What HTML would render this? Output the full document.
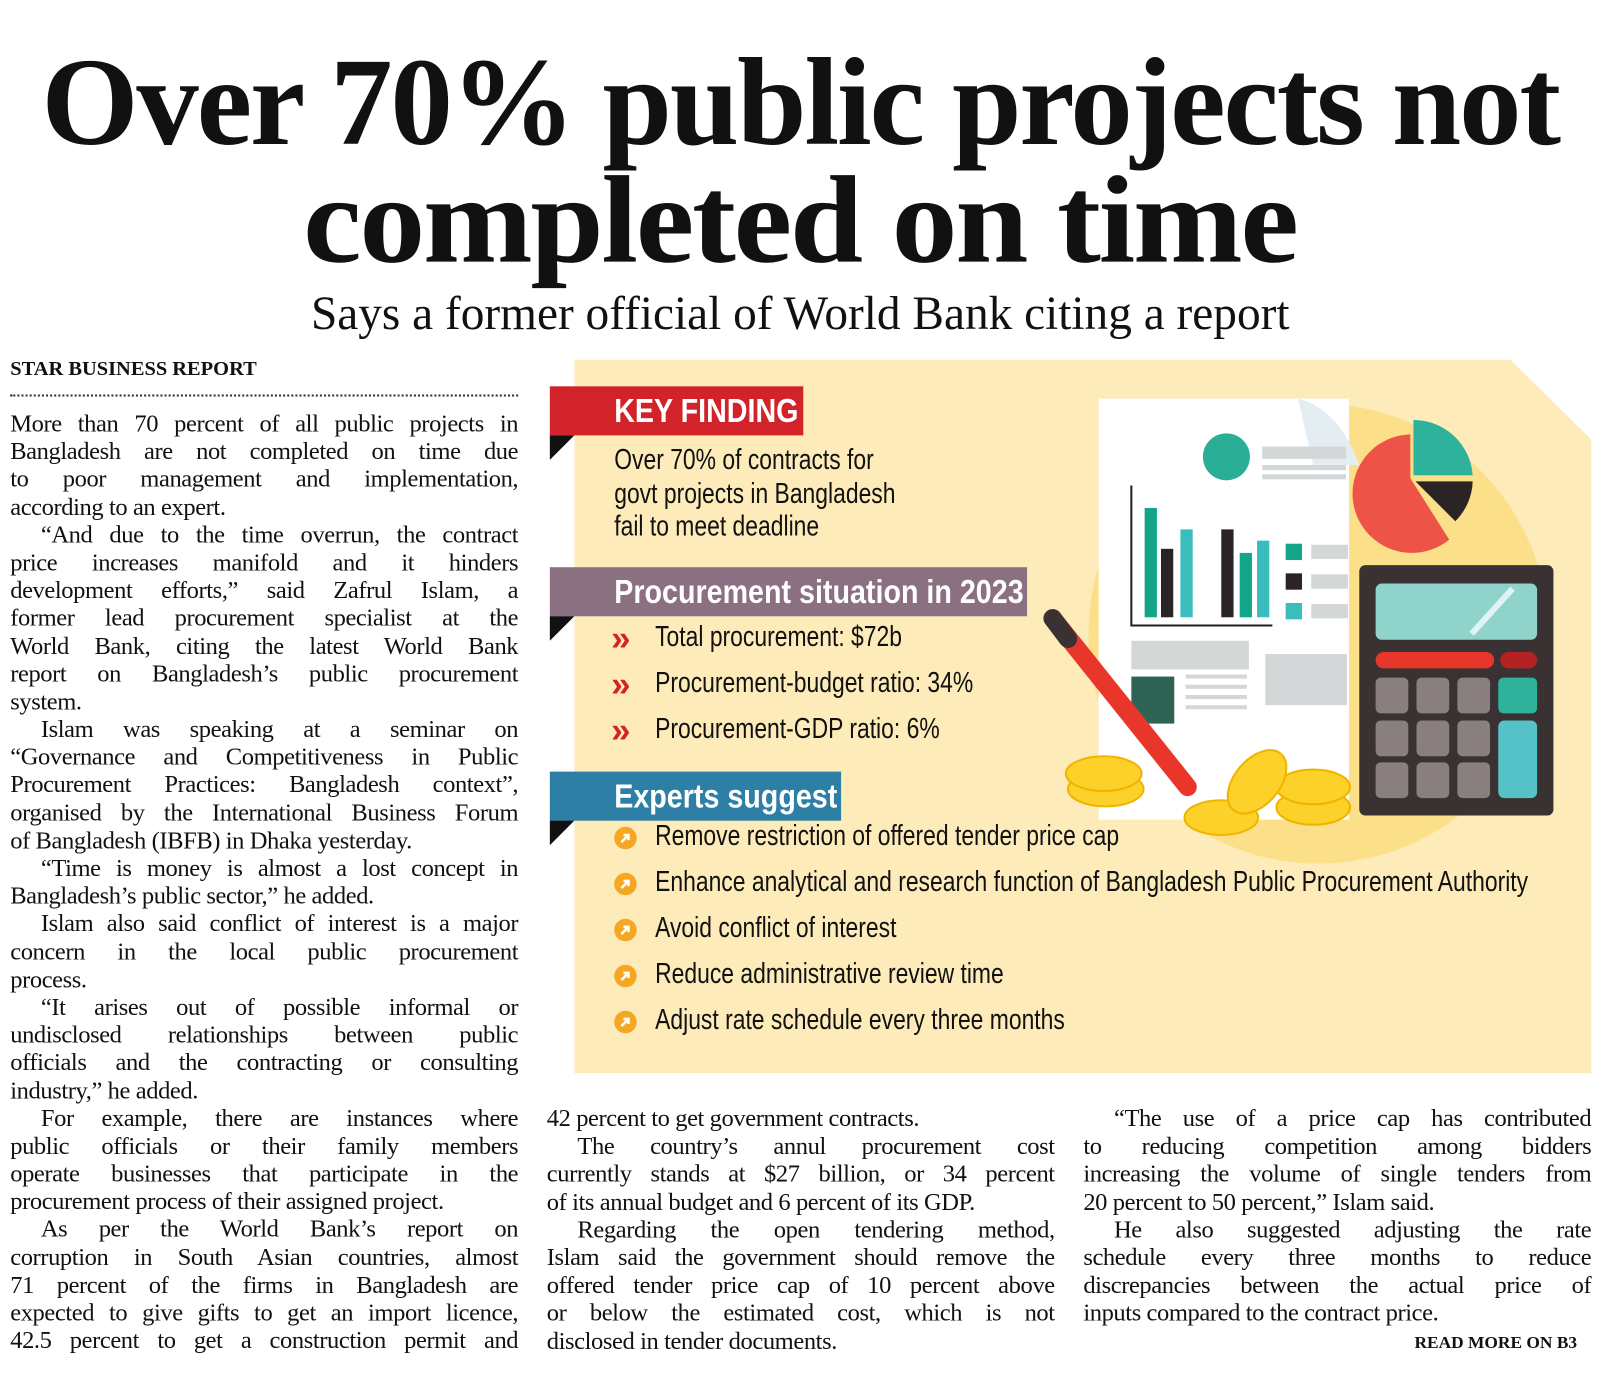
<!DOCTYPE html>
<html><head><meta charset="utf-8"><style>
body{margin:0;width:1603px;height:1370px;background:#fff;position:relative;overflow:hidden;font-family:"Liberation Serif",serif;color:#111}
#w{position:absolute;left:0;top:0;width:1560px;height:1334px;transform:scale(1.022);transform-origin:0 0}
.a{position:absolute;white-space:nowrap}
.h{font-weight:bold;font-size:122px;letter-spacing:-2px;line-height:1;transform-origin:center}
.col{position:absolute;width:497px;font-size:24px;letter-spacing:-0.4px}
.col div{height:27.2px;line-height:27.2px;white-space:nowrap;text-align:justify;text-align-last:justify}
.col div.l{text-align-last:left}
.col div.i{text-indent:30px}
.nar{font-family:"Liberation Sans",sans-serif;display:inline-block;transform-origin:0 50%;white-space:nowrap}
.lab{position:absolute;color:#fff;font-weight:bold;font-size:33px;line-height:48px;padding-left:63px;box-sizing:border-box;height:48px;white-space:nowrap;overflow:hidden}
.lab span{transform:scaleX(.85)}
.tri{position:absolute;width:0;height:0;border-top:24px solid #111;border-left:24px solid transparent;transform:scaleX(-1)}
.it{position:absolute;font-size:28px;left:641px;transform:scaleX(.8)}
.bq{position:absolute;left:598px;font-size:34px;color:#d2232a;font-weight:bold;font-family:"Liberation Sans",sans-serif;line-height:1}
</style></head><body><div id="w">
<div class="a" style="top:40px;left:0;width:1566px;text-align:center"><span class="h" style="display:inline-block;transform:scaleX(1.0)">Over 70% public projects not</span></div>
<div class="a" style="top:155px;left:0;width:1566px;text-align:center"><span class="h" style="display:inline-block;transform:scaleX(1.055)">completed on time</span></div>
<div class="a" style="top:280px;left:0;width:1566px;text-align:center;font-size:47px;transform:scaleX(.985)">Says a former official of World Bank citing a report</div>
<div class="a" style="top:350px;left:10px;font-weight:bold;font-size:20px">STAR BUSINESS REPORT</div>
<div class="a" style="top:386px;left:10px;width:497px;border-top:2px dotted #333"></div>

<div class="col" style="left:10px;top:402px">
<div>More than 70 percent of all public projects in</div>
<div>Bangladesh are not completed on time due</div>
<div>to poor management and implementation,</div>
<div class="l">according to an expert.</div>
<div class="i">“And due to the time overrun, the contract</div>
<div>price increases manifold and it hinders</div>
<div>development efforts,” said Zafrul Islam, a</div>
<div>former lead procurement specialist at the</div>
<div>World Bank, citing the latest World Bank</div>
<div>report on Bangladesh’s public procurement</div>
<div class="l">system.</div>
<div class="i">Islam was speaking at a seminar on</div>
<div>“Governance and Competitiveness in Public</div>
<div>Procurement Practices: Bangladesh context”,</div>
<div>organised by the International Business Forum</div>
<div class="l">of Bangladesh (IBFB) in Dhaka yesterday.</div>
<div class="i">“Time is money is almost a lost concept in</div>
<div class="l">Bangladesh’s public sector,” he added.</div>
<div class="i">Islam also said conflict of interest is a major</div>
<div>concern in the local public procurement</div>
<div class="l">process.</div>
<div class="i">“It arises out of possible informal or</div>
<div>undisclosed relationships between public</div>
<div>officials and the contracting or consulting</div>
<div class="l">industry,” he added.</div>
<div class="i">For example, there are instances where</div>
<div>public officials or their family members</div>
<div>operate businesses that participate in the</div>
<div class="l">procurement process of their assigned project.</div>
<div class="i">As per the World Bank’s report on</div>
<div>corruption in South Asian countries, almost</div>
<div>71 percent of the firms in Bangladesh are</div>
<div>expected to give gifts to get an import licence,</div>
<div>42.5 percent to get a construction permit and</div>
</div>

<div class="col" style="left:535px;top:1082px">
<div class="l">42 percent to get government contracts.</div>
<div class="i">The country’s annul procurement cost</div>
<div>currently stands at $27 billion, or 34 percent</div>
<div class="l">of its annual budget and 6 percent of its GDP.</div>
<div class="i">Regarding the open tendering method,</div>
<div>Islam said the government should remove the</div>
<div>offered tender price cap of 10 percent above</div>
<div>or below the estimated cost, which is not</div>
<div class="l">disclosed in tender documents.</div>
</div>
<div class="col" style="left:1060px;top:1082px">
<div class="i">“The use of a price cap has contributed</div>
<div>to reducing competition among bidders</div>
<div>increasing the volume of single tenders from</div>
<div class="l">20 percent to 50 percent,” Islam said.</div>
<div class="i">He also suggested adjusting the rate</div>
<div>schedule every three months to reduce</div>
<div>discrepancies between the actual price of</div>
<div class="l">inputs compared to the contract price.</div>
</div>
<div class="a" style="left:1384px;top:1304px;font-size:17px;font-weight:bold">READ MORE ON B3</div>

<svg class="a" style="left:0;top:0" width="1603" height="1370">
<polygon points="562,352 1478,352 1557,430 1557,1050 562,1050" fill="#fdebb9"/>
<circle cx="1290" cy="620" r="225" fill="#fbe089"/>
<rect x="1075" y="390" width="245" height="412" fill="#fff"/>
<path d="M1270,390 Q1310,400 1330,455 L1285,455 Z" fill="#e4eef2"/>
<ellipse cx="1200" cy="447" rx="23" ry="23" fill="#2aae96"/>
<rect x="1235" y="437" width="82" height="12" fill="#d4d7d8"/><rect x="1235" y="455" width="82" height="5" fill="#d4d7d8"/><rect x="1235" y="464" width="82" height="5" fill="#d4d7d8"/>
<polyline points="1107,475 1107,612 1245,612" fill="none" stroke="#222" stroke-width="2"/>
<rect x="1120" y="497" width="12" height="107" fill="#12a58a"/><rect x="1136" y="537" width="12" height="67" fill="#2a2424"/><rect x="1155" y="518" width="12" height="86" fill="#3abdbd"/>
<rect x="1195" y="518" width="12" height="86" fill="#2a2424"/><rect x="1213" y="541" width="12" height="63" fill="#12a58a"/><rect x="1230" y="529" width="12" height="75" fill="#3abdbd"/>
<rect x="1258" y="532" width="16" height="16" fill="#12a58a"/><rect x="1258" y="561" width="16" height="16" fill="#2a2424"/><rect x="1258" y="590" width="16" height="16" fill="#3abdbd"/>
<rect x="1283" y="533" width="36" height="14" fill="#d4d7d8"/><rect x="1283" y="562" width="36" height="14" fill="#d4d7d8"/><rect x="1283" y="591" width="36" height="14" fill="#d4d7d8"/>
<rect x="1107" y="627" width="115" height="28" fill="#d4d7d8"/><rect x="1107" y="662" width="42" height="46" fill="#2f6356"/>
<rect x="1160" y="660" width="60" height="4" fill="#d4d7d8"/><rect x="1160" y="670" width="60" height="4" fill="#d4d7d8"/><rect x="1160" y="680" width="60" height="4" fill="#d4d7d8"/><rect x="1160" y="690" width="60" height="4" fill="#d4d7d8"/>
<rect x="1238" y="640" width="80" height="50" fill="#d4d7d8"/>
<path d="M1380,468 L1380,425 A58,58 0 1,0 1418,528 Z" fill="#ee5347"/>
<path d="M1383,465 L1383,411 A58,58 0 0,1 1441,465 Z" fill="#2fb29c"/>
<path d="M1385,471 L1441,471 A58,58 0 0,1 1424,510 Z" fill="#2a2424"/>
<rect x="1330" y="553" width="190" height="245" rx="6" fill="#3a3232"/>
<rect x="1346" y="571" width="158" height="55" rx="6" fill="#8fd3cb"/>
<line x1="1440" y1="620" x2="1480" y2="576" stroke="#e0f2f3" stroke-width="6"/>
<rect x="1346" y="638" width="116" height="16" rx="8" fill="#e8362a"/><rect x="1468" y="638" width="36" height="16" rx="8" fill="#b52224"/>
<g fill="#8a7f7f">
<rect x="1346" y="663" width="32" height="35" rx="5"/><rect x="1386" y="663" width="32" height="35" rx="5"/><rect x="1426" y="663" width="32" height="35" rx="5"/>
<rect x="1346" y="705" width="32" height="35" rx="5"/><rect x="1386" y="705" width="32" height="35" rx="5"/><rect x="1426" y="705" width="32" height="35" rx="5"/>
<rect x="1346" y="746" width="32" height="35" rx="5"/><rect x="1386" y="746" width="32" height="35" rx="5"/><rect x="1426" y="746" width="32" height="35" rx="5"/></g>
<rect x="1466" y="663" width="38" height="35" rx="5" fill="#2fb29c"/><rect x="1466" y="705" width="38" height="76" rx="6" fill="#55c2c8"/>
<line x1="1030" y1="605" x2="1162" y2="770" stroke="#e8362a" stroke-width="18" stroke-linecap="round"/>
<line x1="1030" y1="605" x2="1045" y2="625" stroke="#3a3232" stroke-width="18" stroke-linecap="round"/>
<g fill="#fcd22a" stroke="#f0b400" stroke-width="2">
<ellipse cx="1082" cy="772" rx="37" ry="17"/><ellipse cx="1080" cy="757" rx="37" ry="17"/>
<ellipse cx="1195" cy="800" rx="36" ry="17"/><ellipse cx="1285" cy="790" rx="36" ry="17"/><ellipse cx="1285" cy="770" rx="36" ry="17"/><ellipse cx="1230" cy="765" rx="22" ry="36" transform="rotate(40 1230 765)"/></g>
</svg>

<div class="lab" style="left:538px;top:378px;width:248px;background:#d2232a"><span class="nar">KEY FINDING</span></div>
<div class="tri" style="left:538px;top:426px"></div>
<div class="a" style="left:601px;top:434px;font-size:28px;line-height:32.5px"><span class="nar" style="transform:scaleX(.8)">Over 70% of contracts for<br>govt projects in Bangladesh<br>fail to meet deadline</span></div>

<div class="lab" style="left:538px;top:555px;width:467px;background:#8a7080"><span class="nar">Procurement situation in 2023</span></div>
<div class="tri" style="left:538px;top:603px"></div>
<div class="bq" style="top:608px">»</div>
<div class="bq" style="top:653px">»</div>
<div class="bq" style="top:698px">»</div>
<div class="it nar" style="top:607px">Total procurement: $72b</div>
<div class="it nar" style="top:652px">Procurement-budget ratio: 34%</div>
<div class="it nar" style="top:697px">Procurement-GDP ratio: 6%</div>

<div class="lab" style="left:538px;top:755px;width:285px;background:#2e7fa6"><span class="nar">Experts suggest</span></div>
<div class="tri" style="left:538px;top:803px"></div>
<svg class="a" style="left:600px;top:808px" width="26" height="210">
<g fill="#f5a623"><circle cx="12" cy="12" r="11"/><circle cx="12" cy="57" r="11"/><circle cx="12" cy="102" r="11"/><circle cx="12" cy="147" r="11"/><circle cx="12" cy="192" r="11"/></g>
<g fill="none" stroke="#fff" stroke-width="2.5"><path d="M8,16 L15,9 M10,9 L15,9 L15,14"/><path d="M8,61 L15,54 M10,54 L15,54 L15,59"/><path d="M8,106 L15,99 M10,99 L15,99 L15,104"/><path d="M8,151 L15,144 M10,144 L15,144 L15,149"/><path d="M8,196 L15,189 M10,189 L15,189 L15,194"/></g>
</svg>
<div class="it nar" style="top:802px">Remove restriction of offered tender price cap</div>
<div class="it nar" style="top:847px">Enhance analytical and research function of Bangladesh Public Procurement Authority</div>
<div class="it nar" style="top:892px">Avoid conflict of interest</div>
<div class="it nar" style="top:937px">Reduce administrative review time</div>
<div class="it nar" style="top:982px">Adjust rate schedule every three months</div>
</div></body></html>
